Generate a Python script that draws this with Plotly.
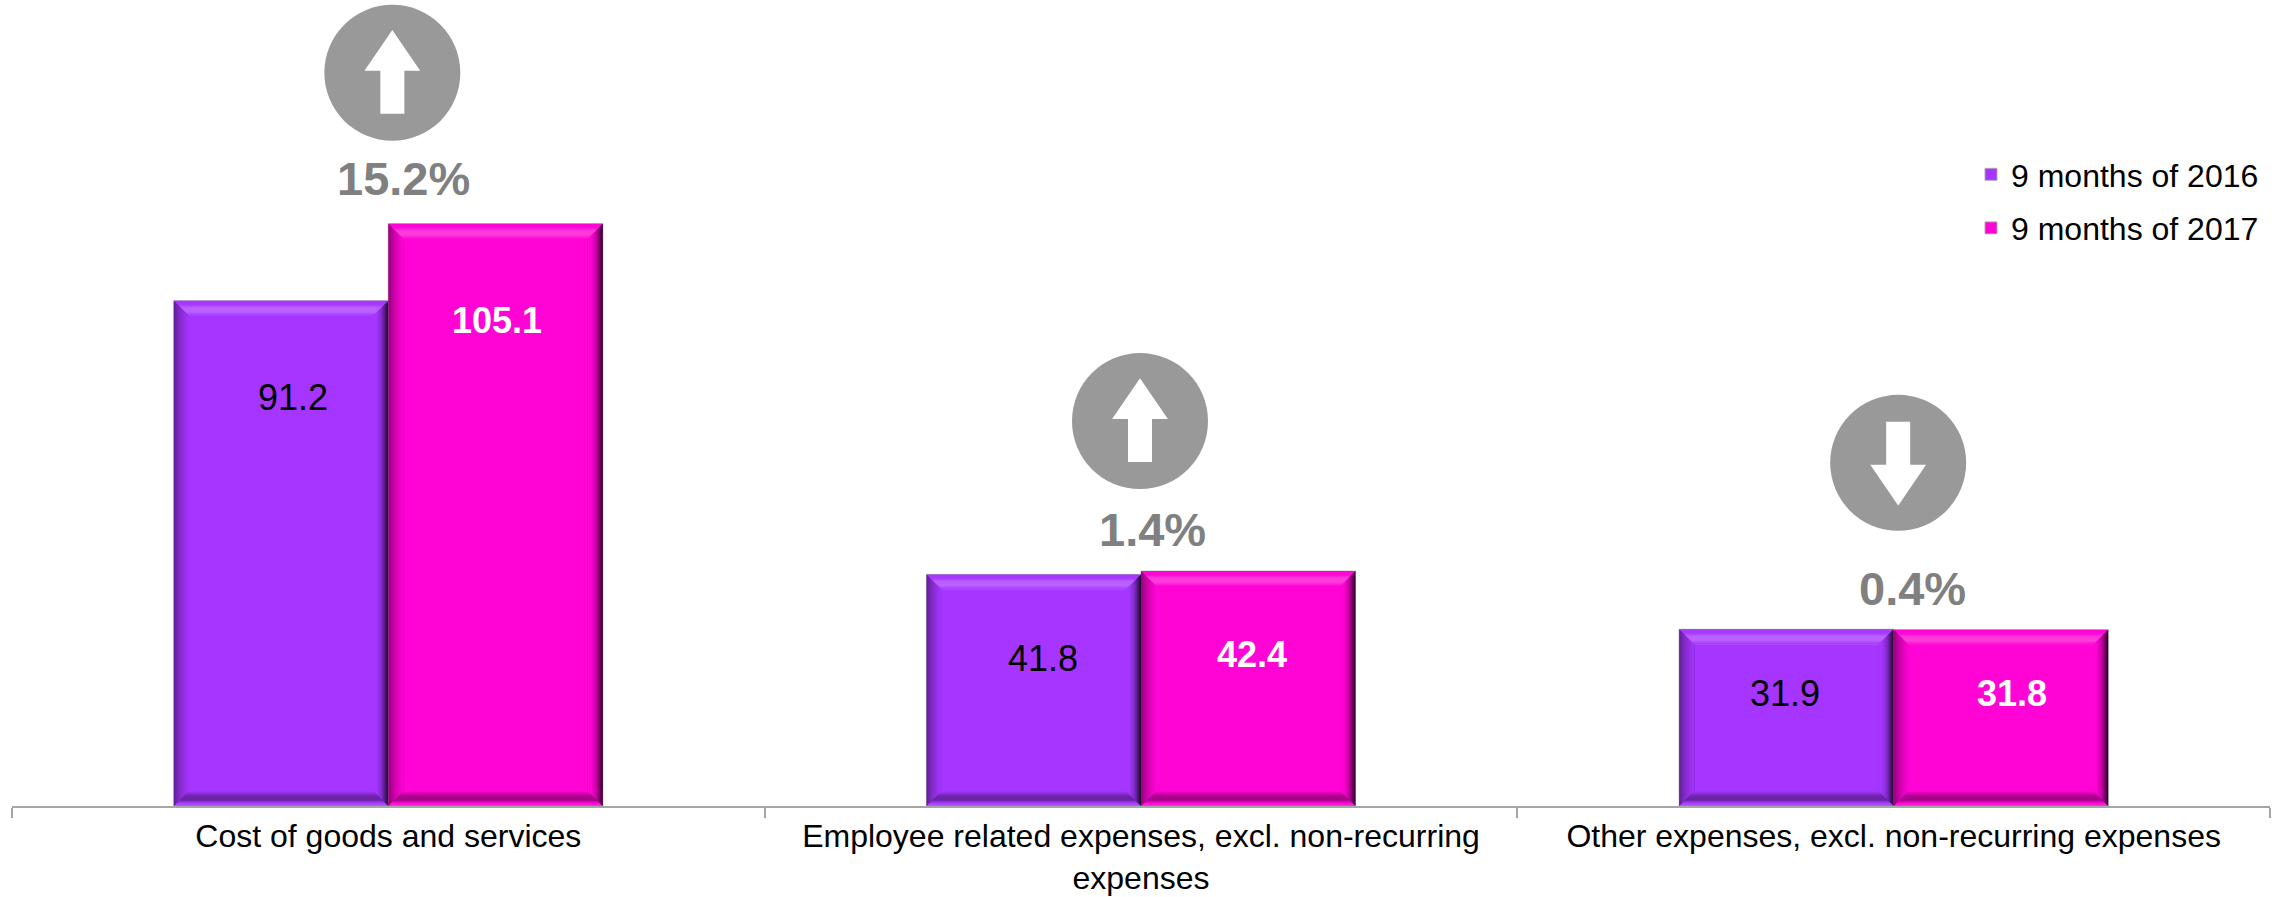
import plotly.graph_objects as go

# ---- data ----
categories = [
    "Cost of goods and services",
    "Employee related expenses, excl. non-recurring<br>expenses",
    "Other expenses, excl. non-recurring expenses",
]
series_names = ["9 months of 2016", "9 months of 2017"]
values_2016 = [91.2, 41.8, 31.9]
values_2017 = [105.1, 42.4, 31.8]
change_labels = ["15.2%", "1.4%", "0.4%"]
change_up = [True, True, False]

# ---- style ----
FONT = "Liberation Sans, Arial, sans-serif"
PURPLE = "#A636FF"
PINK = "#FF04D4"
GREY_ICON = "#999999"
GREY_TEXT = "#808080"
AXIS = "#A6A6A6"
W, H = 2292, 897
ML, MR, MB = 12, 22, 91
Y_MAX = 145.5
BAR_GAP = 0.43
BAR_W = (1 - BAR_GAP) / 2
PX_X = (W - ML - MR) / 3.0      # pixels per category
PX_Y = (H - MB) / Y_MAX         # pixels per value unit
BEVEL = 15

# per-group pixel nudges
value_label_dx = [[12, 1.5], [9.5, 3.5], [-1, 11]]
value_label_dy = [[-97, -97], [-84, -83], [-64, -64]]
change_label_dx = [15.5, 11, 18.5]
change_label_dy = [45, 42, 41]
icon_dx = [4, -1, 4.5]
icon_dy = [151, 150, 167]


def rgb(h):
    return tuple(int(h[i:i + 2], 16) for i in (1, 3, 5))


def mix(base, other, t):
    a, b = rgb(base), rgb(other)
    return "rgb(%d,%d,%d)" % tuple(round(a[i] + (b[i] - a[i]) * t) for i in range(3))


def ramp(stops, d):
    for (d0, t0), (d1, t1) in zip(stops, stops[1:]):
        if d0 <= d <= d1:
            return t0 + (t1 - t0) * (d - d0) / (d1 - d0)
    return stops[-1][1]


# positive t = towards white, negative = towards black, by depth into the bevel
TOP = [(0, 0.0), (4, 0.02), (7, 0.22), (11, 0.22), (15, 0.0)]
LEFT = [(0, -0.42), (6, -0.2), (15, 0.0)]
RIGHT = [(0, -0.85), (3, -0.55), (7, -0.2), (12, 0.0), (15, 0.0)]
BOTTOM = [(0, 0.18), (3, 0.02), (6, -0.36), (10, -0.32), (15, 0.0)]


def shade(base, t):
    return mix(base, "#FFFFFF", t) if t >= 0 else mix(base, "#000000", -t)


def bevel_shapes(x0, x1, v, base):
    out = []
    dx, dy = 1 / PX_X, 1 / PX_Y
    inner_x0, inner_x1 = x0 + BEVEL * dx, x1 - BEVEL * dx
    inner_y0, inner_y1 = BEVEL * dy, v - BEVEL * dy
    for k in range(BEVEL):
        ax0, ax1 = x0 + k * dx, x1 - k * dx
        ay0, ay1 = k * dy, v - k * dy
        sides = [
            (TOP, [(ax0, ay1), (ax1, ay1), (inner_x1, inner_y1), (inner_x0, inner_y1)]),
            (BOTTOM, [(ax0, ay0), (ax1, ay0), (inner_x1, inner_y0), (inner_x0, inner_y0)]),
            (LEFT, [(ax0, ay0), (ax0, ay1), (inner_x0, inner_y1), (inner_x0, inner_y0)]),
            (RIGHT, [(ax1, ay0), (ax1, ay1), (inner_x1, inner_y1), (inner_x1, inner_y0)]),
        ]
        for stops, pts in sides:
            path = "M" + " L".join("%.5f,%.5f" % p for p in pts) + " Z"
            out.append(dict(type="path", xref="x", yref="y", path=path, layer="above",
                            fillcolor=shade(base, ramp(stops, k + 0.5)),
                            line=dict(width=0)))
    return out


fig = go.Figure()
for name, vals, col in zip(series_names, [values_2016, values_2017], [PURPLE, PINK]):
    fig.add_trace(go.Bar(
        x=categories, y=vals, name=name, legendgroup=name,
        marker=dict(color=col, line=dict(color="rgba(170,170,170,0.9)", width=1)),
        hoverinfo="x+y+name",
    ))

shapes, annotations = [], []
for i, cat in enumerate(categories):
    shapes += bevel_shapes(i - BAR_W, i, values_2016[i], PURPLE)
    shapes += bevel_shapes(i, i + BAR_W, values_2017[i], PINK)

    # value labels
    bar_half = BAR_W / 2 * PX_X
    annotations.append(dict(
        x=cat, y=values_2016[i], xref="x", yref="y", showarrow=False,
        text=f"{values_2016[i]:.1f}", font=dict(family=FONT, size=36, color="#000000"),
        xshift=-bar_half + value_label_dx[i][0], yshift=value_label_dy[i][0],
    ))
    annotations.append(dict(
        x=cat, y=values_2017[i], xref="x", yref="y", showarrow=False,
        text=f"<b>{values_2017[i]:.1f}</b>", font=dict(family=FONT, size=36, color="#FFFFFF"),
        xshift=bar_half + value_label_dx[i][1], yshift=value_label_dy[i][1],
    ))
    # change label
    annotations.append(dict(
        x=cat, y=values_2017[i], xref="x", yref="y", showarrow=False,
        text=f"<b>{change_labels[i]}</b>", font=dict(family=FONT, size=47, color=GREY_TEXT),
        xshift=change_label_dx[i], yshift=change_label_dy[i],
    ))
    # circle with arrow, anchored on the group
    cx = i + icon_dx[i] / PX_X
    cy = values_2017[i] + icon_dy[i] / PX_Y
    shapes.append(dict(type="circle", xref="x", yref="y", xsizemode="pixel", ysizemode="pixel",
                       xanchor=cx, yanchor=cy, x0=-68, x1=68, y0=-68, y1=68,
                       fillcolor=GREY_ICON, line=dict(width=0), layer="above"))
    s = 1 if change_up[i] else -1
    pts = [(0, 41), (26, 3), (11, 3), (11, -40), (-11, -40), (-11, 3), (-26, 3)]
    arrow = "M" + " L".join(f"{px},{s * py}" for px, py in pts) + " Z"
    shapes.append(dict(type="path", xref="x", yref="y", xsizemode="pixel", ysizemode="pixel",
                       xanchor=cx, yanchor=cy, path=arrow, fillcolor="#FFFFFF",
                       line=dict(color="#FFFFFF", width=2), layer="above"))

fig.update_layout(
    width=W, height=H, autosize=False,
    margin=dict(l=ML, r=MR, t=0, b=MB, pad=0, autoexpand=False),
    plot_bgcolor="#FFFFFF", paper_bgcolor="#FFFFFF",
    barmode="group", bargap=BAR_GAP, bargroupgap=0,
    font=dict(family=FONT, size=32, color="#000000"),
    shapes=shapes, annotations=annotations,
    legend=dict(
        x=(1971 - ML) / (W - ML - MR), xanchor="left",
        y=1 - 147 / (H - MB), yanchor="top",
        font=dict(family=FONT, size=32, color="#000000"),
        bgcolor="rgba(0,0,0,0)", borderwidth=0,
        tracegroupgap=9, traceorder="grouped",
    ),
    xaxis=dict(
        type="category", categoryorder="array", categoryarray=categories,
        range=[-0.5, 2.5], tickson="boundaries", ticks="outside", ticklen=10, tickwidth=1.5,
        tickcolor=AXIS, showline=True, linecolor=AXIS, linewidth=2, showgrid=False,
        zeroline=False, tickfont=dict(family=FONT, size=32, color="#000000"), tickangle=0,
        ticklabelstandoff=1, automargin=False,
    ),
    yaxis=dict(range=[0, Y_MAX], visible=False, showgrid=False, zeroline=False),
)

fig.write_html("out.html", config={"displayModeBar": False},
               post_script="document.body.style.margin='0';document.body.style.overflow='hidden';")
